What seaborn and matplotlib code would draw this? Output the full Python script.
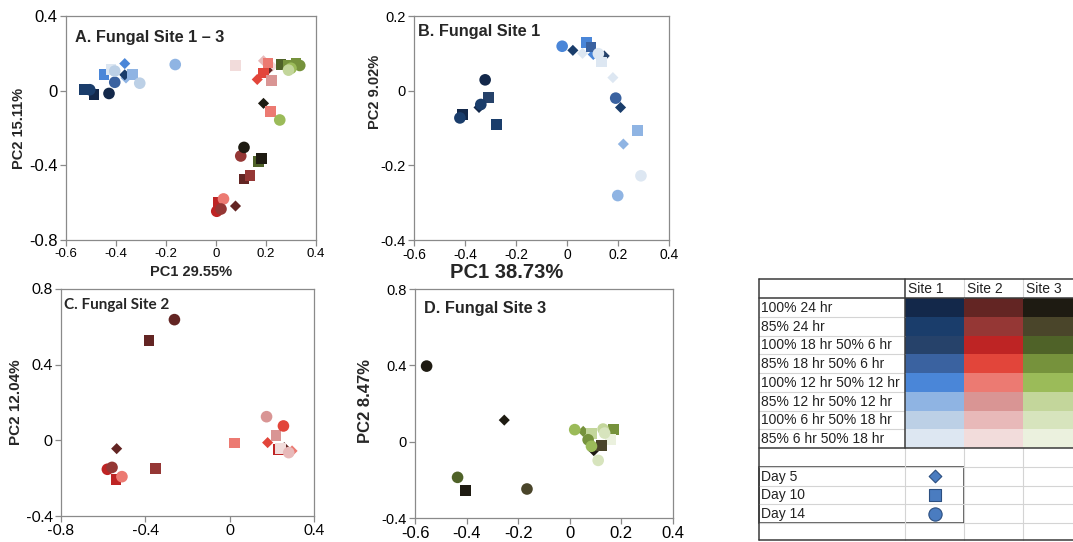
import pandas as pd
import matplotlib
matplotlib.use('Agg')
from matplotlib import pyplot as plt
from matplotlib.patches import Rectangle
import seaborn as sns

# colour per treatment (rows of the key table), one list per site
site1_colors = ['#13284a', '#1a3d6b', '#26426a', '#3a62a0', '#4a86d8', '#8fb4e3', '#bcd0e6', '#dde7f2']
site2_colors = ['#632523', '#953735', '#be2424', '#e2453a', '#ec7a72', '#d99594', '#e8b9b9', '#f2dcdb']
site3_colors = ['#1e1b12', '#4a452a', '#4f6228', '#76923c', '#9bbb59', '#c3d69b', '#d7e4bd', '#ebf1de']
treatments = ['100% 24 hr', '85% 24 hr', '100% 18 hr 50% 6 hr', '85% 18 hr 50% 6 hr',
              '100% 12 hr 50% 12 hr', '85% 12 hr 50% 12 hr', '100% 6 hr 50% 18 hr',
              '85% 6 hr 50% 18 hr']
sites = ['Site 1', 'Site 2', 'Site 3']
days = [5, 10, 14]
day_labels = ['Day 5', 'Day 10', 'Day 14']
day_markers = {5: 'D', 10: 's', 14: 'o'}
day_sizes = {5: 32, 10: 60, 14: 70}

# A: all sites  (site, treatment, day, PC1, PC2)
panel_a = [
    (1, 1, 10, -0.525, 0.008), (1, 1, 14, -0.505, 0.005), (1, 0, 10, -0.488, -0.022),
    (1, 0, 14, -0.428, -0.015), (1, 3, 14, -0.405, 0.045), (1, 4, 10, -0.448, 0.085),
    (1, 7, 10, -0.42, 0.115), (1, 6, 14, -0.405, 0.105), (1, 5, 10, -0.335, 0.085),
    (1, 6, 14, -0.305, 0.04), (1, 4, 5, -0.365, 0.145), (1, 5, 5, -0.36, 0.068),
    (1, 1, 5, -0.365, 0.085), (1, 5, 14, -0.163, 0.14),
    (2, 7, 10, 0.079, 0.134), (2, 6, 5, 0.19, 0.16), (2, 4, 10, 0.208, 0.148),
    (2, 7, 5, 0.225, 0.13), (2, 3, 10, 0.19, 0.095), (2, 3, 5, 0.165, 0.06),
    (2, 0, 5, 0.205, 0.11), (2, 5, 10, 0.222, 0.055), (2, 4, 10, 0.219, -0.113),
    (2, 1, 14, 0.099, -0.35), (2, 0, 10, 0.112, -0.473), (2, 1, 10, 0.136, -0.455),
    (2, 2, 10, 0.008, -0.60), (2, 4, 14, 0.03, -0.58), (2, 2, 14, 0.003, -0.646),
    (2, 1, 14, 0.02, -0.634), (2, 0, 5, 0.078, -0.618),
    (3, 2, 10, 0.26, 0.14), (3, 3, 10, 0.29, 0.135), (3, 3, 10, 0.32, 0.145),
    (3, 3, 14, 0.335, 0.135), (3, 4, 14, 0.30, 0.12), (3, 5, 14, 0.29, 0.11),
    (3, 6, 5, 0.31, 0.13), (3, 4, 5, 0.27, 0.14), (3, 0, 5, 0.19, -0.068),
    (3, 4, 14, 0.255, -0.157), (3, 0, 14, 0.112, -0.304), (3, 2, 10, 0.17, -0.38),
    (3, 0, 10, 0.183, -0.363),
]

# B, C, D: one site each  (treatment, day, PC1, PC2)
panel_b = [
    (0, 14, -0.321, 0.029), (2, 10, -0.307, -0.018), (1, 14, -0.338, -0.037),
    (0, 5, -0.345, -0.045), (0, 10, -0.411, -0.063), (1, 14, -0.42, -0.073),
    (1, 10, -0.277, -0.09), (4, 14, -0.019, 0.119), (1, 5, 0.023, 0.108),
    (7, 5, 0.061, 0.10), (4, 10, 0.077, 0.13), (3, 10, 0.094, 0.117),
    (7, 14, 0.123, 0.099), (4, 5, 0.103, 0.097), (2, 5, 0.146, 0.093),
    (7, 10, 0.136, 0.077), (7, 5, 0.18, 0.035), (3, 14, 0.191, -0.02),
    (1, 5, 0.21, -0.045), (5, 10, 0.277, -0.107), (5, 5, 0.221, -0.143),
    (7, 14, 0.29, -0.228), (5, 14, 0.199, -0.281),
]
panel_c = [
    (0, 14, -0.262, 0.638), (0, 10, -0.383, 0.527), (0, 5, -0.536, -0.044),
    (2, 14, -0.58, -0.153), (1, 14, -0.558, -0.143), (2, 10, -0.539, -0.206),
    (4, 14, -0.511, -0.192), (1, 10, -0.353, -0.148), (4, 10, 0.022, -0.014),
    (5, 14, 0.175, 0.125), (3, 14, 0.255, 0.076), (2, 10, 0.23, -0.05),
    (7, 10, 0.24, -0.045), (5, 10, 0.22, 0.026), (3, 5, 0.18, -0.012),
    (0, 5, 0.259, -0.039), (6, 14, 0.28, -0.065), (4, 5, 0.296, -0.056),
]
panel_d = [
    (0, 14, -0.555, 0.396), (0, 5, -0.254, 0.113), (2, 14, -0.435, -0.187),
    (0, 10, -0.404, -0.257), (1, 14, -0.166, -0.248), (4, 14, 0.019, 0.063),
    (3, 5, 0.052, 0.054), (3, 14, 0.071, 0.01), (5, 10, 0.084, 0.042),
    (5, 14, 0.129, 0.066), (3, 10, 0.168, 0.063), (7, 10, 0.157, 0.01),
    (6, 14, 0.135, 0.045), (4, 14, 0.084, -0.024), (6, 14, 0.11, -0.098),
    (1, 10, 0.123, -0.019), (0, 5, 0.093, -0.047),
]

titles = ['A. Fungal Site 1 \u2013 3', 'B. Fungal Site 1', 'C. Fungal Site 2', 'D. Fungal Site 3']
xlabels = ['PC1 29.55%', 'PC1 38.73%', '', '']
ylabels = ['PC2 15.11%', 'PC2 9.02%', 'PC2 12.04%', 'PC2 8.47%']

sns.set_style('white')
plt.rcParams['font.family'] = ['Liberation Sans', 'DejaVu Sans']

W, H = 1073, 542
fig = plt.figure(figsize=(W / 100, H / 100), dpi=100)


def px_axes(left, top, right, bottom):
    return fig.add_axes([left / W, 1 - bottom / H, (right - left) / W, (bottom - top) / H])


palette = {}
for s, cols in enumerate([site1_colors, site2_colors, site3_colors], start=1):
    for t, c in enumerate(cols):
        palette[f'{s}-{t}'] = c


def draw_panel(ax, df):
    df = df.copy()
    df['key'] = df['site'].astype(str) + '-' + df['trt'].astype(str)
    for d in days:
        sub = df[df['day'] == d]
        sns.scatterplot(data=sub, x='pc1', y='pc2', hue='key', palette=palette,
                        marker=day_markers[d], s=day_sizes[d], linewidth=0,
                        legend=False, ax=ax)


cols = ['site', 'trt', 'day', 'pc1', 'pc2']
df_a = pd.DataFrame(panel_a, columns=cols)
df_b = pd.DataFrame([(1,) + r for r in panel_b], columns=cols)
df_c = pd.DataFrame([(2,) + r for r in panel_c], columns=cols)
df_d = pd.DataFrame([(3,) + r for r in panel_d], columns=cols)

ax_a = px_axes(66, 16, 316, 240)
ax_b = px_axes(414, 16, 669, 240)
ax_c = px_axes(61, 289, 314, 516)
ax_d = px_axes(415, 289, 673, 518)
axes = [ax_a, ax_b, ax_c, ax_d]

for ax, df in zip(axes, [df_a, df_b, df_c, df_d]):
    draw_panel(ax, df)

ax_a.set_xlim(-0.6, 0.4); ax_a.set_ylim(-0.8, 0.4)
ax_a.set_xticks([-0.6, -0.4, -0.2, 0, 0.2, 0.4]); ax_a.set_yticks([-0.8, -0.4, 0, 0.4])
ax_b.set_xlim(-0.6, 0.4); ax_b.set_ylim(-0.4, 0.2)
ax_b.set_xticks([-0.6, -0.4, -0.2, 0, 0.2, 0.4]); ax_b.set_yticks([-0.4, -0.2, 0, 0.2])
ax_c.set_xlim(-0.8, 0.4); ax_c.set_ylim(-0.4, 0.8)
ax_c.set_xticks([-0.8, -0.4, 0, 0.4]); ax_c.set_yticks([-0.4, 0, 0.4, 0.8])
ax_d.set_xlim(-0.6, 0.4); ax_d.set_ylim(-0.4, 0.8)
ax_d.set_xticks([-0.6, -0.4, -0.2, 0, 0.2, 0.4]); ax_d.set_yticks([-0.4, 0, 0.4, 0.8])


def fmt(v):
    return '0' if abs(v) < 1e-9 else f'{v:g}'


title_pos = [(0.036, 0.906), (0.016, 0.93), (0.012, 0.93), (0.035, 0.917)]
title_size = [11.7, 11.7, 11, 11.7]
ylab_pos = [(-0.16, 0.5), (-0.125, 0.66), (-0.152, 0.5), (-0.163, 0.51)]
ylab_size = [10.5, 10.5, 11, 12]
xlab_pos = [(0.5, -0.112), (0.365, -0.103), (0.5, -0.14), (0.5, -0.14)]
xlab_size = [10.5, 14.5, 10.5, 10.5]
xtick_size = [9.5, 10, 11, 12]
ytick_size = [12, 10.5, 11, 10.5]

for i, ax in enumerate(axes):
    tick_font = 'Lato' if i == 2 else 'Liberation Sans'
    ax.set_xticklabels([fmt(v) for v in ax.get_xticks()], family=tick_font)
    ax.set_yticklabels([fmt(v) for v in ax.get_yticks()], family=tick_font)
    for sp in ax.spines.values():
        sp.set_visible(True)
        sp.set_color('#8a8a8a')
        sp.set_linewidth(0.9)
    ax.tick_params(bottom=True, left=True, direction='out', length=4, width=0.9,
                   color='#8a8a8a', labelcolor='black', pad=2)
    ax.tick_params(axis='x', labelsize=xtick_size[i])
    ax.tick_params(axis='y', labelsize=ytick_size[i])
    ax.set_xlabel(xlabels[i], fontsize=xlab_size[i], fontweight='bold')
    ax.set_ylabel(ylabels[i], fontsize=ylab_size[i], fontweight='bold')
    ax.xaxis.set_label_coords(*xlab_pos[i])
    ax.yaxis.set_label_coords(*ylab_pos[i])
    ax.text(title_pos[i][0], title_pos[i][1], titles[i], transform=ax.transAxes,
            fontsize=title_size[i], fontweight='bold', va='center', ha='left',
            family='Lato' if i == 2 else 'Liberation Sans')

# key table drawn in pixel coordinates
tab = fig.add_axes([0, 0, 1, 1])
tab.set_xlim(0, W)
tab.set_ylim(H, 0)
tab.axis('off')

col_x = [759, 905, 964, 1023, 1082]
row_h = 18.75
head_top, head_bot = 279, 298
tab_bot = head_bot + row_h * len(treatments)
day_top = tab_bot + row_h
day_bot = day_top + row_h * len(days)
last_bot = 540
grid = '#d4d4d4'
dark = '#3a3a3a'

# light grid
for k in range(1, len(treatments)):
    y = head_bot + k * row_h
    tab.plot([col_x[0], col_x[1]], [y, y], color=grid, lw=0.8)
for y in [day_top, day_top + row_h, day_top + 2 * row_h, day_bot]:
    tab.plot([col_x[0], W], [y, y], color=grid, lw=0.8)
for x in col_x[1:4]:
    tab.plot([x, x], [tab_bot, last_bot], color=grid, lw=0.8)
for x in col_x[2:4]:
    tab.plot([x, x], [head_top, head_bot], color=grid, lw=0.8)

# colour cells
for s, colors in enumerate([site1_colors, site2_colors, site3_colors]):
    for t, c in enumerate(colors):
        tab.add_patch(Rectangle((col_x[s + 1], head_bot + t * row_h),
                                col_x[s + 2] - col_x[s + 1], row_h,
                                facecolor=c, edgecolor='none'))

# dark borders
for y in [head_top, head_bot, tab_bot, last_bot]:
    tab.plot([col_x[0], W], [y, y], color=dark, lw=1.1)
tab.plot([col_x[0], col_x[0]], [head_top, last_bot], color=dark, lw=1.1)
tab.plot([col_x[1], col_x[1]], [head_top, tab_bot], color=dark, lw=1.1)
tab.add_patch(Rectangle((col_x[0], day_top), col_x[2] - col_x[0], day_bot - day_top,
                        facecolor='none', edgecolor=dark, lw=1.1))

for s, name in enumerate(sites):
    tab.text(col_x[s + 1] + 3, (head_top + head_bot) / 2 + 0.5, name,
             fontsize=10, va='center', ha='left', color='#222222')
for t, name in enumerate(treatments):
    tab.text(col_x[0] + 2, head_bot + (t + 0.5) * row_h + 0.5, name,
             fontsize=10, va='center', ha='left', color='#222222')
for k, (d, name) in enumerate(zip(days, day_labels)):
    yc = day_top + (k + 0.5) * row_h
    tab.text(col_x[0] + 2, yc + 0.5, name, fontsize=10, va='center', ha='left',
             color='#222222')
    tab.scatter([(col_x[1] + col_x[2]) / 2], [yc], marker=day_markers[d],
                s=day_sizes[d] * 1.3, color='#4a7cc0', edgecolor='#2c4f80', lw=0.8)

fig.savefig('out.png', dpi=100)
